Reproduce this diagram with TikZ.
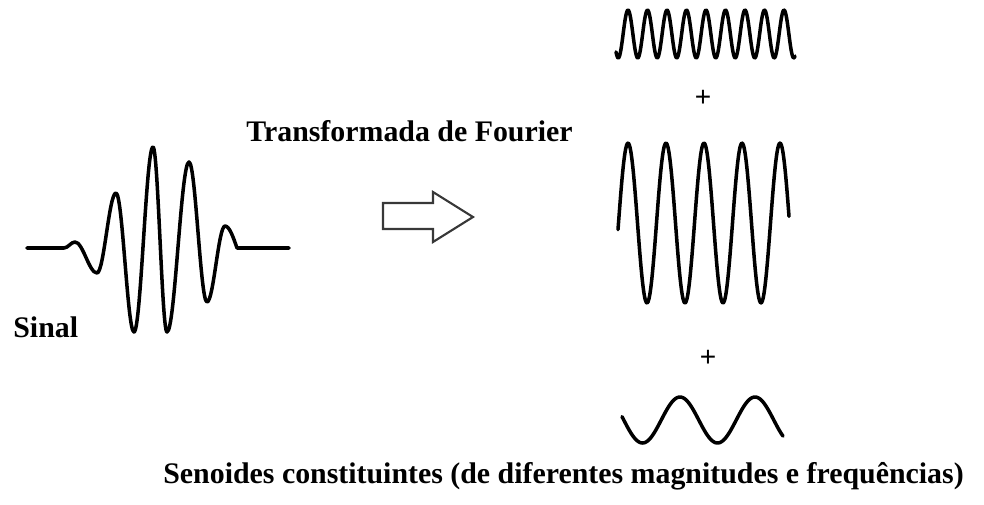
\documentclass[tikz,border=0pt]{standalone}
\usepackage{fontspec}
\setmainfont{Liberation Serif}
\newfontfamily\plusfont{Liberation Sans}
\usetikzlibrary{calc}
\tikzset{
  wave/.style={line width=2pt, line join=round, line cap=round},
  bigarrow/.style={line width=1.2pt, black!78, line join=miter},
  title/.style={font=\fontsize{17}{20}\selectfont\bfseries, inner sep=0pt},
  plus/.style={font=\plusfont\fontsize{16}{18}\selectfont, inner sep=0pt}
}

\begin{document}
\begin{tikzpicture}[x=0.02cm, y=-0.02cm]
  \useasboundingbox (0,0) rectangle (984,504);

  % Signal (wave packet) --- extremes of the packet
  \foreach \n/\px/\py in {0/64/248, 1/75/242, 2/97/273, 3/116/193, 4/134/332,
                          5/153/147, 6/167/332, 7/189/162, 8/207/302, 9/225/226,
                          10/237/248} {
    \coordinate (S\n) at (\px,\py);
  }
  \coordinate (Sleft) at (27,248);
  \coordinate (Sright) at (289,248);
  \draw[wave] (Sleft) -- (S0)
    cos ($(S0)!.5!(S1)$) sin (S1)
    cos ($(S1)!.5!(S2)$) sin (S2)
    cos ($(S2)!.5!(S3)$) sin (S3)
    cos ($(S3)!.5!(S4)$) sin (S4)
    cos ($(S4)!.5!(S5)$) sin (S5)
    cos ($(S5)!.5!(S6)$) sin (S6)
    cos ($(S6)!.5!(S7)$) sin (S7)
    cos ($(S7)!.5!(S8)$) sin (S8)
    cos ($(S8)!.5!(S9)$) sin (S9)
    cos (S10) -- (Sright);
  \node[title, anchor=base west] (sinal) at (13,337) {Sinal};

  % Block arrow
  \draw[bigarrow] (383,203) -- (433,203) -- (433,192) -- (473,217)
    -- (433,242) -- (433,229) -- (383,229) -- cycle;
  \node[title, anchor=base west] (fourier) at (246,141) {Transformada de Fourier};

  % Constituent sinusoids
  \draw[wave] plot[domain=616:795, samples=240, smooth]
    (\x, {34 - 24*cos((\x-628)/19.5*360)});
  \node[plus] (plusA) at (703,98) {+};
  \draw[wave] plot[domain=618:789, samples=200, smooth]
    (\x, {223 - 80*cos((\x-628)/38*360)});
  \node[plus] (plusB) at (708,358) {+};
  \draw[wave] plot[domain=622:783, samples=120, smooth]
    (\x, {420 - 23*cos((\x-680)/75*360)});

  \node[title, anchor=base west] (senoides) at (163,483)
    {Senoides constituintes (de diferentes magnitudes e frequências)};
\end{tikzpicture}
\end{document}
